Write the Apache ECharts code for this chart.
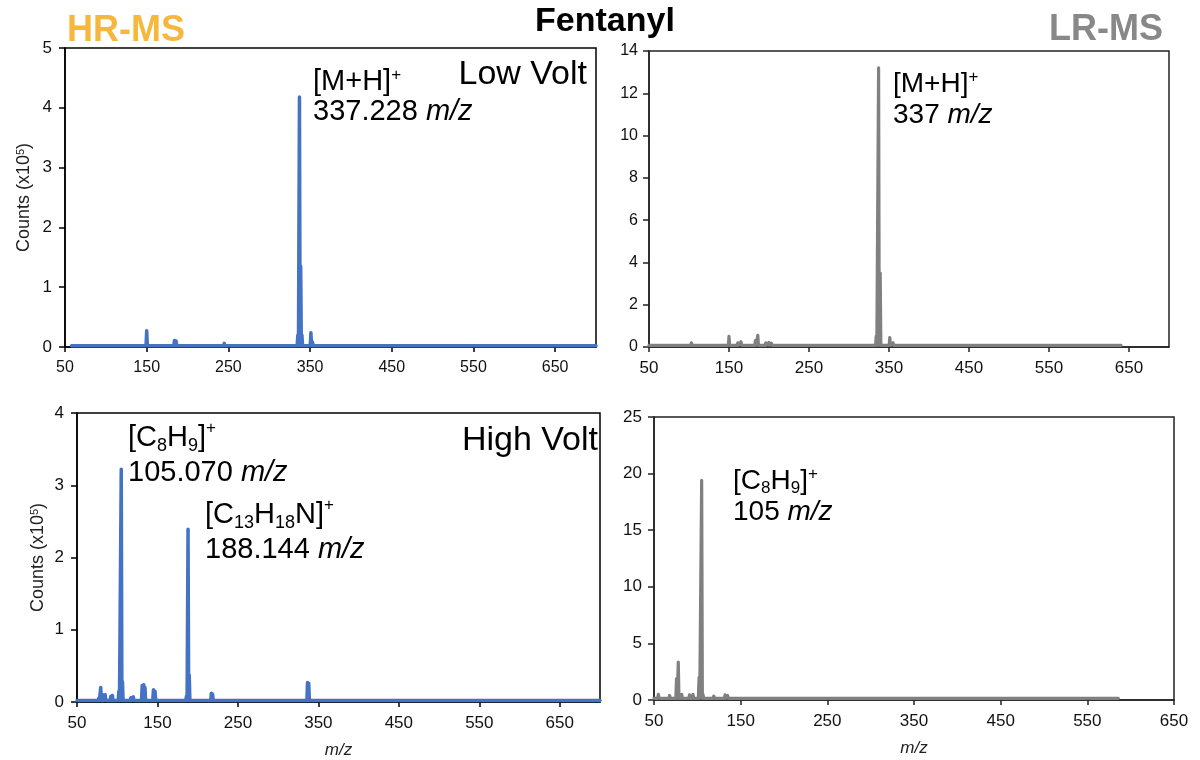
<!DOCTYPE html>
<html>
<head>
<meta charset="utf-8">
<script src="https://cdn.jsdelivr.net/npm/echarts@6/dist/echarts.min.js"></script>
<style>
html,body{margin:0;padding:0;background:#fff;}
#main{width:1200px;height:760px;}
</style>
</head>
<body>
<div id="main"></div>
<script>
// ---------------- DATA ----------------
// Tick labels (m/z)
const mzTicks = [50, 150, 250, 350, 450, 550, 650];

// HR-MS, low voltage (counts x10^5)
const hrLowMz  = [80, 150, 184, 186, 202, 245, 335, 337, 338.5, 340, 351, 353, 367, 425];
const hrLowInt = [0.05, 0.27, 0.11, 0.10, 0.04, 0.06, 0.20, 4.18, 1.35, 0.20, 0.24, 0.08, 0.03, 0.03];
const hrLowRange = [58, 700];
const hrLowBase = 0.02;

// LR-MS, low voltage (counts)
const lrLowMz  = [95, 103, 106, 135, 139, 150, 161, 165, 170, 183, 186, 196, 200, 203, 220, 230, 245, 255, 272, 283, 290, 297, 320, 326, 334, 337, 339, 351, 355, 365, 390, 395, 413, 418, 422, 430, 480, 508, 545, 572, 588];
const lrLowInt = [0.05, 0.2, 0.15, 0.12, 0.1, 0.5, 0.2, 0.25, 0.12, 0.3, 0.55, 0.2, 0.22, 0.18, 0.08, 0.1, 0.1, 0.05, 0.08, 0.08, 0.08, 0.1, 0.08, 0.12, 0.5, 13.2, 3.5, 0.45, 0.2, 0.05, 0.05, 0.06, 0.08, 0.1, 0.06, 0.1, 0.12, 0.08, 0.05, 0.08, 0.15];
const lrLowRange = [50, 640];
const lrLowBase = 0.08;

// HR-MS, high voltage (counts x10^5)
const hrHighMz  = [77, 79.5, 82, 85, 92, 94, 102, 105, 106.5, 117, 120, 131, 133, 134.5, 145, 147, 160, 186, 188, 189.5, 217, 218.5, 280, 336.5, 338, 392];
const hrHighInt = [0.05, 0.2, 0.1, 0.1, 0.08, 0.09, 0.15, 3.22, 0.28, 0.06, 0.07, 0.23, 0.24, 0.2, 0.17, 0.15, 0.03, 0.08, 2.39, 0.37, 0.12, 0.11, 0.02, 0.27, 0.26, 0.01];
const hrHighRange = [50, 700];
const hrHighBase = 0.02;

// LR-MS, high voltage (counts)
const lrHighMz  = [55, 68, 76, 78, 82, 91, 95, 102, 105, 106.5, 119, 122, 132, 135, 142, 147, 160, 172, 180, 188, 197, 337, 585];
const lrHighInt = [0.5, 0.4, 1.9, 3.35, 0.5, 0.45, 0.5, 2.0, 19.4, 0.5, 0.35, 0.3, 0.45, 0.4, 0.25, 0.25, 0.15, 0.1, 0.1, 0.25, 0.1, 0.3, 0.1];
const lrHighRange = [50, 585];
const lrHighBase = 0.15;

// ---------------- BUILD ----------------
const FF = "'Liberation Sans', Arial, Helvetica, sans-serif";
const BLUE = '#4472C4';
const GRAY = '#808080';

function spectrum(mz, inten, range, base, hw) {
  const pts = [[range[0], base]];
  mz.forEach((m, i) => {
    pts.push([m - hw, base]);
    pts.push([m, inten[i]]);
    pts.push([m + hw, base]);
  });
  pts.push([range[1], base]);
  return pts;
}

function makeX(gi, max, color, size, margin, name) {
  return {
    type: 'value', gridIndex: gi, min: 50, max: max,
    name: name || '', nameLocation: 'middle', nameGap: 40,
    nameTextStyle: { fontStyle: 'italic', fontSize: 17, color: '#222', fontFamily: FF },
    axisLine: { show: true, onZero: false, lineStyle: { color: color, width: 1.5 } },
    axisTick: { show: true, length: 5, customValues: mzTicks.filter(v => v <= max), lineStyle: { color: color, width: 1.5 } },
    axisLabel: { customValues: mzTicks.filter(v => v <= max), margin: margin, fontSize: size, color: '#111', fontFamily: FF },
    splitLine: { show: false }
  };
}
function makeY(gi, max, interval, color, size, margin, name, gap) {
  return {
    type: 'value', gridIndex: gi, min: 0, max: max, interval: interval,
    name: name || '', nameLocation: 'middle', nameGap: gap || 40,
    nameTextStyle: { fontSize: 18, color: '#222', fontFamily: FF, rich: { s: { fontSize: 11, verticalAlign: 'top', lineHeight: 10, fontFamily: FF, color: '#222' } } },
    axisLine: { show: true, lineStyle: { color: color, width: 1.5 } },
    axisTick: { show: true, length: 6, lineStyle: { color: color, width: 1.5 } },
    axisLabel: { margin: margin, fontSize: size, color: '#111', fontFamily: FF },
    splitLine: { show: false }
  };
}
function makeSeries(gi, data, color, w) {
  return {
    type: 'line', xAxisIndex: gi, yAxisIndex: gi, data: data, showSymbol: false, symbol: 'none',
    lineStyle: { color: color, width: w, cap: 'round', join: 'round' }, z: 3, silent: true
  };
}
function note(x, y, text, size, lh) {
  return {
    type: 'text', x: x, y: y, z: 100,
    style: {
      text: text, fontSize: size, fontFamily: FF, fill: '#000', lineHeight: lh,
      textVerticalAlign: 'top',
      rich: {
        n: { fontSize: size, fontFamily: FF, lineHeight: lh, fill: '#000' },
        i: { fontSize: size, fontFamily: FF, fontStyle: 'italic', lineHeight: lh, fill: '#000' },
        b: { fontSize: Math.round(size * 0.62), fontFamily: FF, verticalAlign: 'bottom', lineHeight: 6, fill: '#000' },
        p: { fontSize: Math.round(size * 0.6), fontFamily: FF, verticalAlign: 'top', lineHeight: 14, fill: '#000' }
      }
    }
  };
}

const countsName = 'Counts (x10{s|5})';

const option = {
  animation: false,
  backgroundColor: '#fff',
  grid: [
    { left: 65, top: 48, width: 531, height: 299, show: true, borderColor: '#000', borderWidth: 1.5, backgroundColor: 'transparent' },
    { left: 649, top: 51, width: 520, height: 296, show: true, borderColor: '#222', borderWidth: 1.5, backgroundColor: 'transparent' },
    { left: 77, top: 413, width: 523, height: 289, show: true, borderColor: '#000', borderWidth: 1.5, backgroundColor: 'transparent' },
    { left: 654, top: 417, width: 520, height: 283, show: true, borderColor: '#222', borderWidth: 1.5, backgroundColor: 'transparent' }
  ],
  xAxis: [
    makeX(0, 700, '#000', 16, 13, ''),
    makeX(1, 700, '#222', 17, 13, ''),
    makeX(2, 700, '#000', 17, 13, 'm/z'),
    makeX(3, 650, '#222', 17, 13, 'm/z')
  ],
  yAxis: [
    makeY(0, 5, 1, '#000', 17, 13, countsName, 32),
    makeY(1, 14, 2, '#222', 16, 11, ''),
    makeY(2, 4, 1, '#000', 17, 13, countsName, 30),
    makeY(3, 25, 5, '#222', 17, 12, '')
  ],
  series: [
    makeSeries(0, spectrum(hrLowMz, hrLowInt, hrLowRange, hrLowBase, 0.8), BLUE, 3.5),
    makeSeries(1, spectrum(lrLowMz, lrLowInt, lrLowRange, lrLowBase, 0.8), GRAY, 3.2),
    makeSeries(2, spectrum(hrHighMz, hrHighInt, hrHighRange, hrHighBase, 0.8), BLUE, 3.5),
    makeSeries(3, spectrum(lrHighMz, lrHighInt, lrHighRange, lrHighBase, 0.8), GRAY, 3.2)
  ],
  graphic: [
    { type: 'text', x: 67, y: 31, z: 100, style: { text: 'HR-MS', fontSize: 36, fontWeight: 'bold', fontFamily: FF, fill: '#F5B83D', textVerticalAlign: 'middle' } },
    { type: 'text', x: 605, y: 22, z: 100, style: { text: 'Fentanyl', fontSize: 34, fontWeight: 'bold', fontFamily: FF, fill: '#000', textAlign: 'center', textVerticalAlign: 'middle' } },
    { type: 'text', x: 1163, y: 30, z: 100, style: { text: 'LR-MS', fontSize: 36, fontWeight: 'bold', fontFamily: FF, fill: '#888888', textAlign: 'right', textVerticalAlign: 'middle' } },
    { type: 'text', x: 587, y: 75, z: 100, style: { text: 'Low Volt', fontSize: 34, fontFamily: FF, fill: '#000', textAlign: 'right', textVerticalAlign: 'middle' } },
    { type: 'text', x: 598, y: 441, z: 100, style: { text: 'High Volt', fontSize: 34, fontFamily: FF, fill: '#000', textAlign: 'right', textVerticalAlign: 'middle' } },
    note(313, 67, '{n|[M+H]}{p|+}\n{n|337.228 }{i|m/z}', 29, 30),
    note(893, 69, '{n|[M+H]}{p|+}\n{n|337 }{i|m/z}', 28, 31),
    note(128, 420, '{n|[C}{b|8}{n|H}{b|9}{n|]}{p|+}\n{n|105.070 }{i|m/z}', 29, 35),
    note(205, 497, '{n|[C}{b|13}{n|H}{b|18}{n|N]}{p|+}\n{n|188.144 }{i|m/z}', 29, 35),
    note(733, 466, '{n|[C}{b|8}{n|H}{b|9}{n|]}{p|+}\n{n|105 }{i|m/z}', 28, 31)
  ]
};

const chart = echarts.init(document.getElementById('main'), null, { renderer: 'canvas' });
chart.setOption(option);
</script>
</body>
</html>
